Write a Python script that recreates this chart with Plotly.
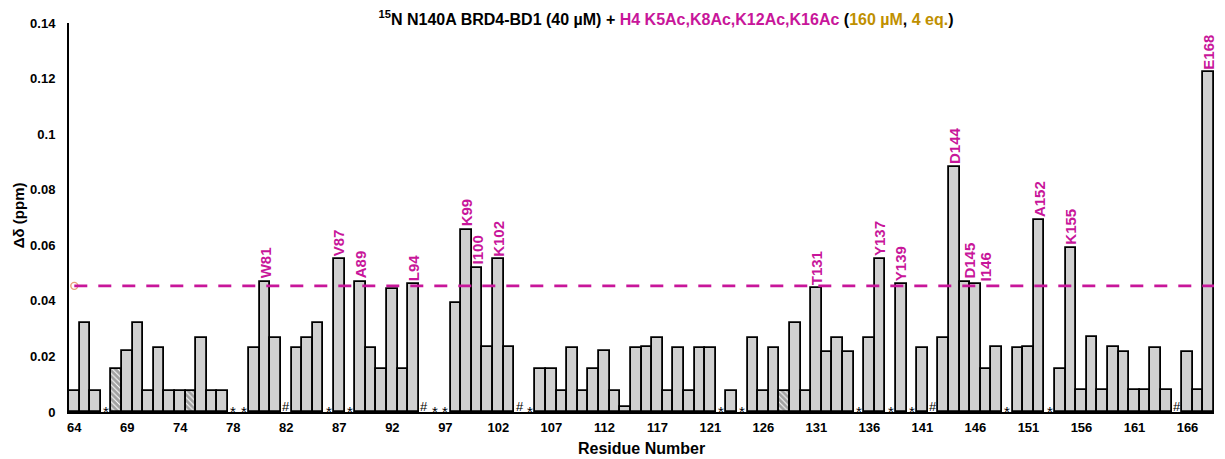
import plotly.graph_objects as go

# Residue categories (Trp side-chain indole peaks get their own slot)
residues = (
    [str(r) for r in range(64, 76)] + ["W75sc"] +
    [str(r) for r in range(76, 82)] + ["W81sc"] +
    [str(r) for r in range(82, 121)] + ["W120sc"] +
    [str(r) for r in range(121, 169)]
)

# Chemical shift perturbations (ppm); None = no data (see marks)
delta = [
    0.0076, 0.032, 0.0076, None, 0.0156, 0.0219, 0.032, 0.0076, 0.023, 0.0076,   # 64-73
    0.0076, 0.0076, 0.0268, 0.0076, 0.0076, None, None, 0.023, 0.0469, 0.0268,   # 74-81sc
    None, 0.023, 0.0268, 0.032, None, 0.0549, None, 0.0469, 0.0229, 0.0156,      # 82-91
    0.0441, 0.0156, 0.046, None, None, None, 0.0392, 0.0656, 0.0519, 0.0234,     # 92-101
    0.0549, 0.0234, None, None, 0.0156, 0.0156, 0.0076, 0.023, 0.0076, 0.0156,   # 102-111
    0.0219, 0.0076, 0.0019, 0.023, 0.0234, 0.0268, 0.0076, 0.023, 0.0076, 0.023, # 112-120sc
    0.023, None, 0.0076, None, 0.0268, 0.0076, 0.023, 0.0076, 0.0319, 0.0076,    # 121-130
    0.0447, 0.0216, 0.0268, 0.0216, None, 0.0268, 0.0549, None, 0.0459, None,    # 131-140
    0.0229, None, 0.0268, 0.0881, 0.0469, 0.0459, 0.0156, 0.0234, None, 0.0229,  # 141-150
    0.0234, 0.0691, None, 0.0156, 0.0591, 0.0078, 0.027, 0.0078, 0.0234, 0.0216, # 151-160
    0.0078, 0.0078, 0.0229, 0.0078, None, 0.0216, 0.0078, 0.1222,                # 161-168
]

# Unassigned (*) and proline (#) residues
unassigned = ["67", "78", "79", "86", "88", "96", "97", "105", "122", "124",
              "135", "138", "140", "149", "153"]
prolines = ["82", "95", "104", "142", "165"]

# Overlapped / ambiguous peaks drawn hatched
hatched = ["68", "75", "128"]

# Residues above the significance cut-off, labelled (with sideways nudge in px)
labelled = {"81": "W81", "87": "V87", "89": "A89", "94": "L94", "99": "K99",
            "100": "I100", "102": "K102", "131": "T131", "137": "Y137",
            "139": "Y139", "144": "D144", "145": "D145", "146": "I146",
            "152": "A152", "155": "K155", "168": "E168"}
label_nudge = {"145": 5, "146": 10}

threshold = 0.0454

y_ticks = [0, 0.02, 0.04, 0.06, 0.08, 0.1, 0.12, 0.14]
y_ticktext = ["0", "0.02", "0.04", "0.06", "0.08", "0.1", "0.12", "0.14"]

MAGENTA = "#C8169A"
GOLD = "#BF9000"
FONT = "Liberation Sans, Arial, sans-serif"

pos = list(range(len(residues)))
x_tick_pos = pos[::5]
x_tick_text = [residues[i] for i in x_tick_pos]

fig = go.Figure()

fig.add_trace(go.Bar(
    x=pos,
    y=delta,
    width=1.0,
    marker=dict(
        color=["#FFFFFF" if r in hatched else "#D0D0D0" for r in residues],
        line=dict(color="#000000", width=1.8),
        pattern=dict(
            shape=["\\" if r in hatched else "" for r in residues],
            fgcolor="#000000",
            size=4,
            solidity=0.75,
        ),
    ),
    hoverinfo="skip",
    showlegend=False,
))

# Cut-off line with its marker at the first residue
fig.add_shape(type="line", xref="x", yref="y",
              x0=0, x1=len(residues) - 0.5, y0=threshold, y1=threshold,
              line=dict(color=MAGENTA, width=2.75, dash="13px,11px"))
fig.add_trace(go.Scatter(
    x=[0], y=[threshold], mode="markers",
    marker=dict(symbol="circle-open", size=7, color="#E8A27A", line=dict(width=1.4)),
    hoverinfo="skip", showlegend=False,
))

annotations = []
for i, r in enumerate(residues):
    if r in unassigned:
        annotations.append(dict(x=i, y=0, xref="x", yref="y", text="*",
                                showarrow=False, yanchor="bottom", yshift=-9,
                                borderpad=0,
                                font=dict(family=FONT, size=15, color="#000000")))
    elif r in prolines:
        annotations.append(dict(x=i, y=0, xref="x", yref="y", text="#",
                                showarrow=False, yanchor="bottom", yshift=-3,
                                borderpad=0,
                                font=dict(family=FONT, size=13, color="#000000")))
    if r in labelled:
        annotations.append(dict(x=i, y=delta[i], xref="x", yref="y",
                                text=f"<b>{labelled[r]}</b>", textangle=-90,
                                showarrow=False, yanchor="bottom", xanchor="center",
                                yshift=1, xshift=label_nudge.get(r, 0),
                                font=dict(family=FONT, size=15, color=MAGENTA)))

# Axis titles
annotations.append(dict(x=0.5, y=-0.095, xref="paper", yref="paper",
                        text="<b>Residue Number</b>", showarrow=False,
                        xanchor="center", yanchor="middle",
                        font=dict(family=FONT, size=16, color="#000000")))
annotations.append(dict(x=-0.0445, y=0.506, xref="paper", yref="paper",
                        text="<b>Δδ (ppm)</b>", showarrow=False, textangle=-90,
                        xanchor="center", yanchor="middle",
                        font=dict(family=FONT, size=15, color="#000000")))

title_html = (
    "<b><sup>15</sup>N N140A BRD4-BD1 (40 µM) + "
    f"<span style='color:{MAGENTA}'>H4 K5Ac,K8Ac,K12Ac,K16Ac</span> ("
    f"<span style='color:{GOLD}'>160 µM</span>, "
    f"<span style='color:{GOLD}'>4 eq.</span>)</b>"
)

fig.update_layout(
    width=1225, height=459,
    margin=dict(l=69, r=11, t=23, b=47),
    paper_bgcolor="#FFFFFF",
    plot_bgcolor="#FFFFFF",
    bargap=0,
    font=dict(family=FONT, color="#000000"),
    title=dict(text=title_html, x=0.5437, xanchor="center", y=0.9586, yanchor="middle",
               font=dict(family=FONT, size=16, color="#000000")),
    annotations=annotations,
    xaxis=dict(
        range=[-0.5, len(residues) - 0.5],
        tickmode="array", tickvals=x_tick_pos, ticktext=x_tick_text,
        tickfont=dict(family=FONT, size=13, color="#000000", weight="bold"),
        ticks="", ticklabelstandoff=3,
        showline=True, linecolor="#000000", linewidth=1.6,
        showgrid=False, zeroline=False, automargin=False,
    ),
    yaxis=dict(
        range=[0, 0.14],
        tickmode="array", tickvals=y_ticks, ticktext=y_ticktext,
        tickfont=dict(family=FONT, size=13, color="#000000", weight="bold"),
        ticks="", ticklabelstandoff=9,
        showline=True, linecolor="#000000", linewidth=2,
        showgrid=False, zeroline=False, automargin=False,
    ),
)

fig.write_html("out.html")
